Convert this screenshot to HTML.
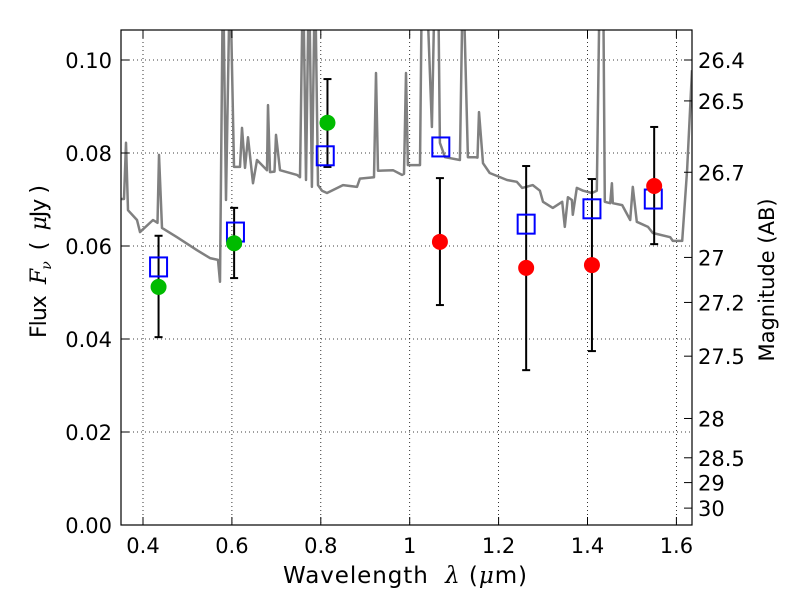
<!DOCTYPE html>
<html><head><meta charset="utf-8"><style>
html,body{margin:0;padding:0;background:#fff;}
svg text{font-family:"DejaVu Sans","Liberation Sans",sans-serif;fill:#000;}
.m{font-family:"DejaVu Serif","Liberation Serif",serif;font-style:italic;}
</style></head><body>
<svg id="chart" width="800" height="600" viewBox="0 0 800 600" xmlns="http://www.w3.org/2000/svg">
<defs><clipPath id="plotclip"><rect x="121" y="30" width="571" height="495"/></clipPath></defs>
<rect x="0" y="0" width="800" height="600" fill="#fff"/>
<g id="grid"></g>
<g id="spec" clip-path="url(#plotclip)"></g>
<g id="marks"></g>
<rect x="121" y="30" width="571" height="495" fill="none" stroke="#000" stroke-width="1.2"/>
<g id="axes"></g>
<text x="283" y="583" font-size="23" textLength="244" lengthAdjust="spacing">Wavelength&#160;&#160;<tspan class="m">λ</tspan> (<tspan class="m">μ</tspan>m)</text>
<text transform="translate(46,338) rotate(-90)" font-size="22" textLength="153" lengthAdjust="spacing">Flux&#160;&#160;<tspan class="m">F</tspan><tspan class="m" font-size="14" dy="5">ν</tspan><tspan dy="-5">&#160;&#160;(&#160;&#160;</tspan><tspan class="m">μ</tspan>Jy )</text>
<text transform="translate(774,280) rotate(-90)" font-size="21" text-anchor="middle">Magnitude (AB)</text>
</svg>
<script>
const xTicks=[0.4,0.6,0.8,1.0,1.2,1.4,1.6];
const xTickLabels=["0.4","0.6","0.8","1","1.2","1.4","1.6"];
const yTicks=[0,0.02,0.04,0.06,0.08,0.10];
const yTickLabels=["0.00","0.02","0.04","0.06","0.08","0.10"];
const magTicks=[26.4,26.5,26.7,27,27.2,27.5,28,28.5,29,30];
const magTickLabels=["26.4","26.5","26.7","27","27.2","27.5","28","28.5","29","30"];
const specLam=[0.3505,0.3573,0.3618,0.3663,0.3865,0.3933,0.4225,0.4326,0.436,0.4427,0.4765,0.5215,0.5507,0.5687,0.5732,0.58,0.5867,0.5957,0.6047,0.6182,0.6227,0.6295,0.6362,0.6475,0.6565,0.679,0.6812,0.6857,0.6958,0.6992,0.7082,0.7465,0.7532,0.76,0.7667,0.7735,0.78,0.787,0.7937,0.8027,0.814,0.85,0.8814,0.888,0.9197,0.9242,0.9287,0.9624,0.9827,0.9872,0.9917,0.996,1.0232,1.0277,1.0367,1.05,1.057,1.0637,1.068,1.0795,1.113,1.12,1.131,1.147,1.1526,1.156,1.165,1.18,1.219,1.241,1.253,1.277,1.293,1.30,1.322,1.343,1.349,1.356,1.365,1.367,1.376,1.39,1.41,1.421,1.428,1.435,1.439,1.451,1.455,1.457,1.478,1.496,1.502,1.511,1.536,1.547,1.586,1.592,1.613,1.624,1.635];
const specFlux=[0.0701,0.0701,0.0822,0.0677,0.0656,0.063,0.0656,0.065,0.0796,0.0639,0.0619,0.0591,0.0574,0.057,0.0523,0.12,0.0699,0.12,0.077,0.077,0.0854,0.0768,0.0834,0.0735,0.0785,0.0763,0.0903,0.0759,0.076,0.0839,0.0763,0.0753,0.0748,0.12,0.0742,0.12,0.0727,0.12,0.0731,0.0719,0.0714,0.0731,0.0727,0.0745,0.0748,0.0972,0.0762,0.0763,0.0753,0.0755,0.0972,0.0774,0.0774,0.12,0.12,0.0856,0.12,0.12,0.0822,0.0791,0.0785,0.12,0.0791,0.0791,0.079,0.0888,0.0778,0.0757,0.0742,0.0738,0.0725,0.0731,0.0719,0.0695,0.0682,0.0695,0.0641,0.0705,0.0699,0.0667,0.0725,0.0719,0.0714,0.0719,0.12,0.12,0.0695,0.0692,0.0735,0.0692,0.0688,0.0656,0.0727,0.0652,0.0641,0.0628,0.0619,0.0611,0.0611,0.0763,0.0978];
const modelLam=[0.435,0.608,0.81,1.07,1.262,1.41,1.548];
const modelFlux=[0.0555,0.063,0.0794,0.0813,0.0647,0.068,0.0701];
const greenLam=[0.435,0.605,0.815];
const greenFlux=[0.0512,0.0606,0.0865];
const greenHi=[0.0622,0.0682,0.0959];
const greenLo=[0.0404,0.0531,0.077];
const redLam=[1.068,1.262,1.41,1.55];
const redFlux=[0.0609,0.0553,0.0559,0.0729];
const redHi=[0.0746,0.0772,0.0744,0.0856];
const redLo=[0.0473,0.0333,0.0374,0.0604];

const L=121,R=692,T=30,B=525;
const X=v=>143+(v-0.4)*444.5;
const Y=v=>525-v*4650;
const magToFlux=m=>Math.pow(10,(23.9-m)/2.5);
const NS="http://www.w3.org/2000/svg";
function mk(tag,attrs,parent){const e=document.createElementNS(NS,tag);for(const k in attrs)e.setAttribute(k,attrs[k]);parent.appendChild(e);return e;}
const grid=document.getElementById('grid'),axes=document.getElementById('axes'),spec=document.getElementById('spec'),marks=document.getElementById('marks');

xTicks.forEach((v,i)=>{
  const x=X(v);
  const g=mk('line',{x1:x,x2:x,y1:T,y2:B,stroke:'#000','stroke-width':0.8,'stroke-dasharray':'1,3'},grid);
  
  
  mk('line',{x1:x,x2:x,y1:B,y2:B-8,stroke:'#000'},axes);
  mk('line',{x1:x,x2:x,y1:T,y2:T+8,stroke:'#000'},axes);
  const t=mk('text',{x:x,y:B+28,'font-size':21,'text-anchor':'middle'},axes);
  t.textContent=xTickLabels[i];
  
  
});
yTicks.forEach((v,i)=>{
  const y=Y(v);
  if(v>0){const g=mk('line',{x1:L,x2:R,y1:y,y2:y,stroke:'#000','stroke-width':0.8,'stroke-dasharray':'1,3'},grid);
  
  }
  mk('line',{x1:L,x2:L+8,y1:y,y2:y,stroke:'#000'},axes);
  const t=mk('text',{x:L-9,y:y+8,'font-size':21,'text-anchor':'end'},axes);
  t.textContent=yTickLabels[i];
  
  
});
magTicks.forEach((m,i)=>{
  const y=Y(magToFlux(m));
  mk('line',{x1:R,x2:R-8,y1:y,y2:y,stroke:'#000'},axes);
  const t=mk('text',{x:R+6,y:y+8,'font-size':21,'text-anchor':'start'},axes);
  t.textContent=magTickLabels[i];
  
  
});
const pts=specLam.map((l,i)=>X(l).toFixed(1)+','+Y(specFlux[i]).toFixed(1)).join(' ');
const sp=mk('polyline',{points:pts,fill:'none',stroke:'#808080','stroke-width':2.5,'stroke-linejoin':'round'},spec);



function errbar(l,hi,lo){
  const x=X(l);
  mk('line',{x1:x,x2:x,y1:Y(hi),y2:Y(lo),stroke:'#000','stroke-width':2},marks);
  mk('line',{x1:x-4,x2:x+4,y1:Y(hi),y2:Y(hi),stroke:'#000','stroke-width':2},marks);
  mk('line',{x1:x-4,x2:x+4,y1:Y(lo),y2:Y(lo),stroke:'#000','stroke-width':2},marks);
}
greenLam.forEach((l,i)=>errbar(l,greenHi[i],greenLo[i]));
redLam.forEach((l,i)=>errbar(l,redHi[i],redLo[i]));
modelLam.forEach((l,i)=>{
  const r=mk('rect',{x:X(l)-8.5,y:Y(modelFlux[i])-9.5,width:17,height:19,fill:'none',stroke:'#0000ff','stroke-width':2},marks);
  
  
});
greenLam.forEach((l,i)=>{
  const c=mk('circle',{cx:X(l),cy:Y(greenFlux[i]),r:8,fill:'#00bb00'},marks);
  
  
});
redLam.forEach((l,i)=>{
  const c=mk('circle',{cx:X(l),cy:Y(redFlux[i]),r:8,fill:'#ff0000'},marks);
  
  
});
</script>
</body></html>
